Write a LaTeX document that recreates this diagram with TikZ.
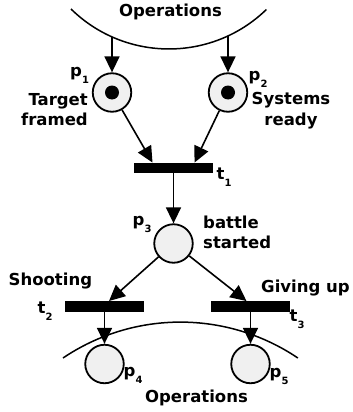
\documentclass[tikz,border=0pt]{standalone}
\usepackage{fontspec}
\setmainfont{DejaVu Sans}
\usetikzlibrary{arrows.meta}
\definecolor{placegray}{RGB}{240,240,240}
\newcommand{\pnsub}[2]{#1\raisebox{-7pt}{\fontsize{10}{10}\selectfont #2}}
\begin{document}
\begin{tikzpicture}[x=1pt,y=-1pt,
  place/.style={circle, draw, line width=1.8pt, fill=placegray, minimum size=38.5pt, inner sep=0pt},
  trans/.style={rectangle, fill=black, minimum width=79pt, minimum height=10.5pt, inner sep=0pt},
  token/.style={circle, fill=black, minimum size=14pt, inner sep=0pt},
  arr/.style={line width=1.6pt, -{Triangle[width=15pt,length=16pt]}},
  arcline/.style={line width=1.5pt},
  lbl/.style={font=\bfseries\fontsize{16.5}{20.5}\selectfont, inner sep=0pt}]
\useasboundingbox (0,0) rectangle (353,412);
% arcs
\draw[arcline] (71,9) arc[start angle=134.4, end angle=45.9, radius=140];
\draw[arcline] (63,358) arc[start angle=-124, end angle=-56, radius=210];
\coordinate (a1) at (112,37);
\coordinate (a2) at (228,36);
% places and transitions
\node[place] (p1) at (112,92.5) {};
\node[token] (k1) at (p1) {};
\node[place] (p2) at (228,92.5) {};
\node[token] (k2) at (p2) {};
\node[trans] (t1) at (173.5,168) {};
\node[place] (p3) at (173.5,243.5) {};
\node[trans] (t2) at (104.5,306.5) {};
\node[trans] (t3) at (250.5,306.5) {};
\node[place] (p4) at (104.5,364) {};
\node[place] (p5) at (250.5,364) {};
% connectors
\draw[arr] (a1) -- (p1);
\draw[arr] (a2) -- (p2);
\draw[arr] (p1) -- ([xshift=-21pt]t1.north);
\draw[arr] (p2) -- ([xshift=21pt]t1.north);
\draw[arr] (t1) -- (p3);
\draw[arr] (p3) -- ([xshift=4.5pt]t2.north);
\draw[arr] (p3) -- ([xshift=-4pt]t3.north);
\draw[arr] (t2) -- (p4);
\draw[arr] (t3) -- (p5);
% labels
\node[lbl, anchor=base] (op1) at (170.5,17) {Operations};
\node[lbl, anchor=base] (op2) at (196.5,402) {Operations};
\node[lbl, anchor=base west] (lp1) at (70,77) {\pnsub{p}{1}};
\node[lbl, anchor=base west] (lp2) at (248.5,80) {\pnsub{p}{2}};
\node[lbl, anchor=base west] (lp3) at (132.5,225) {\pnsub{p}{3}};
\node[lbl, anchor=base west] (lp4) at (123.5,376) {\pnsub{p}{4}};
\node[lbl, anchor=base west] (lp5) at (269.5,377) {\pnsub{p}{5}};
\node[lbl, anchor=base west] (lt1) at (216.5,179) {\pnsub{t}{1}};
\node[lbl, anchor=base west] (lt2) at (37.5,313) {\pnsub{t}{2}};
\node[lbl, anchor=base west] (lt3) at (289.5,321) {\pnsub{t}{3}};
\node[lbl, align=right, anchor=north east] (d1) at (88,93) {Target\\framed};
\node[lbl, align=center, anchor=north] (d2) at (291,92.5) {Systems\\ready};
\node[lbl, align=left, anchor=north west] (d3) at (203,215.5) {battle\\started};
\node[lbl, anchor=base west] (d4) at (8.5,285) {Shooting};
\node[lbl, anchor=base west] (d5) at (261,292) {Giving up};
\end{tikzpicture}
\end{document}
